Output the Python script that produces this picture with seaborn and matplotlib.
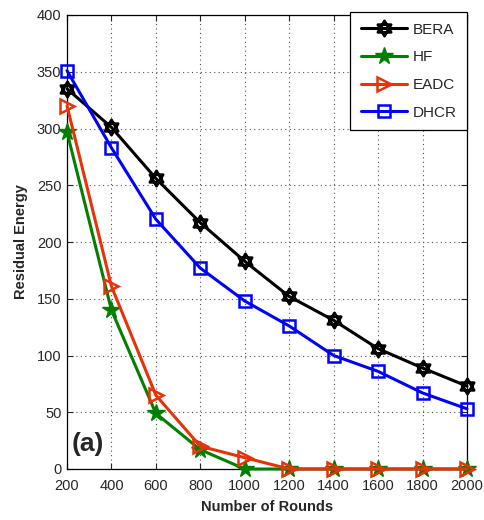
import numpy as np
import pandas as pd
import seaborn as sns
import matplotlib
matplotlib.use("Agg")
import matplotlib.pyplot as plt
from matplotlib.path import Path

rounds = [200, 400, 600, 800, 1000, 1200, 1400, 1600, 1800, 2000]
bera = [335, 301, 256, 217, 183, 152, 131, 106, 89, 73]
hf = [297, 140, 49, 17, 0, 0, 0, 0, 0, 0]
eadc = [320, 161, 65, 20, 10, 0, 0, 0, 0, 0]
dhcr = [351, 283, 220, 177, 148, 126, 100, 86, 67, 53]
series_names = ["BERA", "HF", "EADC", "DHCR"]

sns.set_theme(style="ticks")
plt.rcParams['font.family'] = ['Liberation Sans', 'DejaVu Sans']

# six-pointed star made of two overlapping triangles
ang_up = np.deg2rad([90, 210, 330])
ang_dn = np.deg2rad([270, 30, 150])
tri_up = [(np.cos(a), np.sin(a)) for a in ang_up]
tri_dn = [(np.cos(a), np.sin(a)) for a in ang_dn]
verts = tri_up + [tri_up[0]] + tri_dn + [tri_dn[0]]
codes = [Path.MOVETO, Path.LINETO, Path.LINETO, Path.CLOSEPOLY] * 2
hexagram = Path(verts, codes)

styles = {
    "BERA": dict(color="black", marker=hexagram, ms=11, mfc="none", mew=2.0),
    "HF": dict(color="#008000", marker="*", ms=13, mfc="#008000", mew=1.0),
    "EADC": dict(color="#e8320a", marker=">", ms=10, mfc="none", mew=1.8),
    "DHCR": dict(color="#0000ff", marker="s", ms=8, mfc="none", mew=1.8),
}
values = {"BERA": bera, "HF": hf, "EADC": eadc, "DHCR": dhcr}

fig = plt.figure(figsize=(4.84, 5.2), dpi=100)
ax = fig.add_axes([67/484, 1 - 469/520, (467-67)/484, (469-15)/520])

for name in series_names:
    st = styles[name]
    df = pd.DataFrame({"Rounds": rounds, "Energy": values[name]})
    sns.lineplot(data=df, x="Rounds", y="Energy", ax=ax, color=st["color"],
                 linewidth=2.2, marker=st["marker"], markersize=st["ms"],
                 markerfacecolor=st["mfc"], markeredgecolor=st["color"],
                 markeredgewidth=st["mew"], label=name, zorder=3, clip_on=False)

ax.set_xlim(200, 2000)
ax.set_ylim(0, 400)
ax.set_xticks(rounds)
ax.set_yticks(range(0, 401, 50))
ax.grid(True, linestyle=(0, (1, 3)), color="#555555", linewidth=0.8)
ax.tick_params(direction="in", top=True, right=True, labelsize=10.5, length=4, width=0.8)
ax.tick_params(axis="x", pad=7)
ax.tick_params(axis="y", pad=4)
for s in ax.spines.values():
    s.set_linewidth(0.9)
    s.set_color("black")
ax.set_xlabel("Number of Rounds", fontsize=10.5, fontweight="bold", labelpad=5)
ax.set_ylabel("Residual Energy", fontsize=10.5, fontweight="bold", labelpad=6)

leg = ax.legend(loc="upper right", fontsize=11, frameon=True, fancybox=False,
                edgecolor="black", framealpha=1, handlelength=3.0,
                handletextpad=0.35, borderpad=0.7, labelspacing=0.9,
                borderaxespad=0.0, bbox_to_anchor=(1.0, 1.007))
leg.get_frame().set_linewidth(0.9)
leg.set_zorder(5)

ax.text(0.0125, 0.055, "(a)", transform=ax.transAxes, fontsize=19,
        fontweight="bold", ha="left", va="center")

fig.savefig("out.png", dpi=100)
